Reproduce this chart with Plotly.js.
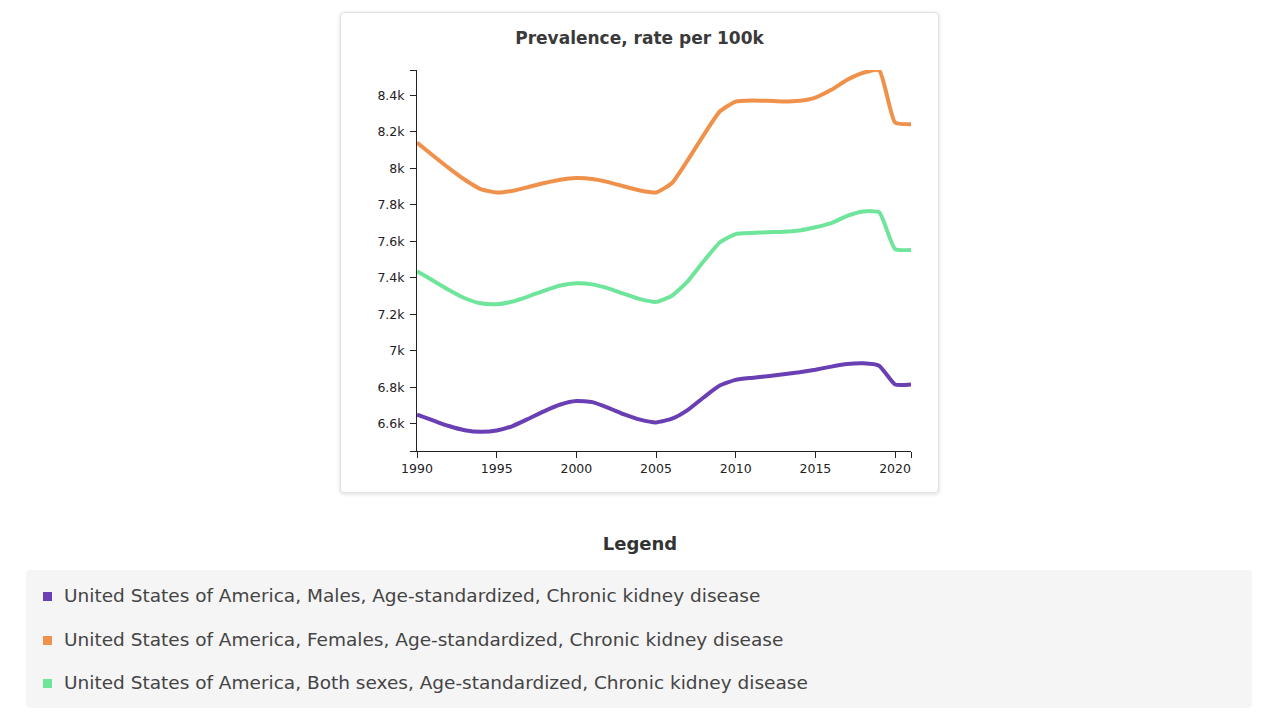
<!DOCTYPE html>
<html>
<head>
<meta charset="utf-8">
<script src="https://cdn.plot.ly/plotly-3.0.1.min.js"></script>
<style>
  html, body { margin: 0; padding: 0; background: #ffffff; width: 1280px; height: 725px; overflow: hidden;
    font-family: "DejaVu Sans", sans-serif; }
  #card { position: absolute; left: 340px; top: 12px; width: 597px; height: 479px;
    border: 1px solid #e2e2e2; border-radius: 4px; box-shadow: 0 1px 4px rgba(0,0,0,0.14); background: #fff; }
  #chart { position: absolute; left: 0; top: 0; width: 597px; height: 479px; }
  #legendTitle { position: absolute; left: 0; width: 1280px; top: 533px; text-align: center;
    font-weight: bold; font-size: 18px; color: #333; }
  #legendBox { position: absolute; left: 26px; top: 570px; width: 1226px; height: 138px;
    background: #f5f5f5; border-radius: 4px; }
  .item { position: absolute; left: 17px; height: 24px; line-height: 24px; font-size: 18.5px; color: #444; white-space: nowrap; }
  .sw { display: inline-block; width: 9px; height: 9px; margin-right: 12px; vertical-align: 1px; }
</style>
</head>
<body>
<div id="card"><div id="chart"></div></div>
<div id="legendTitle">Legend</div>
<div id="legendBox"></div>
<script>
const years = [1990,1991,1992,1993,1994,1995,1996,1997,1998,1999,2000,2001,2002,2003,2004,2005,2006,2007,2008,2009,2010,2011,2012,2013,2014,2015,2016,2017,2018,2019,2020,2021];

const males = [6649,6618,6587,6564,6555,6562,6587,6627,6669,6705,6724,6718,6687,6651,6622,6607,6627,6676,6745,6809,6840,6851,6860,6871,6882,6896,6913,6927,6931,6918,6815,6815];

const females = [8142,8071,8002,7938,7887,7868,7877,7898,7920,7938,7947,7942,7925,7901,7879,7868,7920,8047,8184,8312,8367,8373,8371,8367,8371,8389,8431,8486,8525,8539,8252,8243];

const both = [7436,7385,7333,7288,7260,7255,7270,7298,7330,7358,7370,7364,7342,7312,7283,7268,7302,7382,7492,7594,7640,7646,7650,7653,7660,7677,7700,7740,7764,7760,7558,7553];

const seriesNames = [
  "United States of America, Males, Age-standardized, Chronic kidney disease",
  "United States of America, Females, Age-standardized, Chronic kidney disease",
  "United States of America, Both sexes, Age-standardized, Chronic kidney disease"
];
const seriesColors = ["#6a3fb3", "#f0914b", "#6ee59b"];
const seriesValues = [males, females, both];

const xTickVals = [1990,1995,2000,2005,2010,2015,2020,2021];
const xTickText = ["1990","1995","2000","2005","2010","2015","2020",""];
const yTickVals = [6450,6600,6800,7000,7200,7400,7600,7800,8000,8200,8400,8540];
const yTickText = ["","6.6k","6.8k","7k","7.2k","7.4k","7.6k","7.8k","8k","8.2k","8.4k",""];

const traces = seriesValues.map((vals, i) => ({
  type: "scatter",
  mode: "lines",
  x: years,
  y: vals,
  name: seriesNames[i],
  line: { color: seriesColors[i], width: 4, shape: "spline", smoothing: 0.5 },
  cliponaxis: false,
  hoverinfo: "x+y"
}));

const layout = {
  width: 597, height: 479,
  margin: { l: 76, r: 27, t: 57, b: 41 },
  paper_bgcolor: "rgba(0,0,0,0)",
  plot_bgcolor: "rgba(0,0,0,0)",
  showlegend: false,
  font: { family: "DejaVu Sans, sans-serif", size: 13, color: "#222" },
  title: {
    text: "<b>Prevalence, rate per 100k</b>",
    font: { size: 17, color: "#3a3a3a" },
    x: 0.5, xanchor: "center",
    y: 0.947, yref: "container", yanchor: "middle"
  },
  xaxis: {
    range: [1990, 2021],
    tickvals: xTickVals, ticktext: xTickText,
    showline: true, linecolor: "#222", linewidth: 1,
    ticks: "outside", ticklen: 6, tickcolor: "#222", tickwidth: 1,
    showgrid: false, zeroline: false,
    tickfont: { size: 12.5, color: "#222" }
  },
  yaxis: {
    range: [6450, 8540],
    tickvals: yTickVals, ticktext: yTickText,
    showline: true, linecolor: "#222", linewidth: 1,
    ticks: "outside", ticklen: 6, tickcolor: "#222", tickwidth: 1,
    ticklabelstandoff: 3,
    showgrid: false, zeroline: false,
    tickfont: { size: 12.5, color: "#222" }
  }
};

Plotly.newPlot("chart", traces, layout, { displayModeBar: false, staticPlot: true });

const box = document.getElementById("legendBox");
const rowTops = [14, 57.5, 101];
seriesNames.forEach((name, i) => {
  const d = document.createElement("div");
  d.className = "item";
  d.style.top = rowTops[i] + "px";
  const sw = document.createElement("span");
  sw.className = "sw";
  sw.style.background = seriesColors[i];
  d.appendChild(sw);
  d.appendChild(document.createTextNode(name));
  box.appendChild(d);
});
</script>
</body>
</html>
